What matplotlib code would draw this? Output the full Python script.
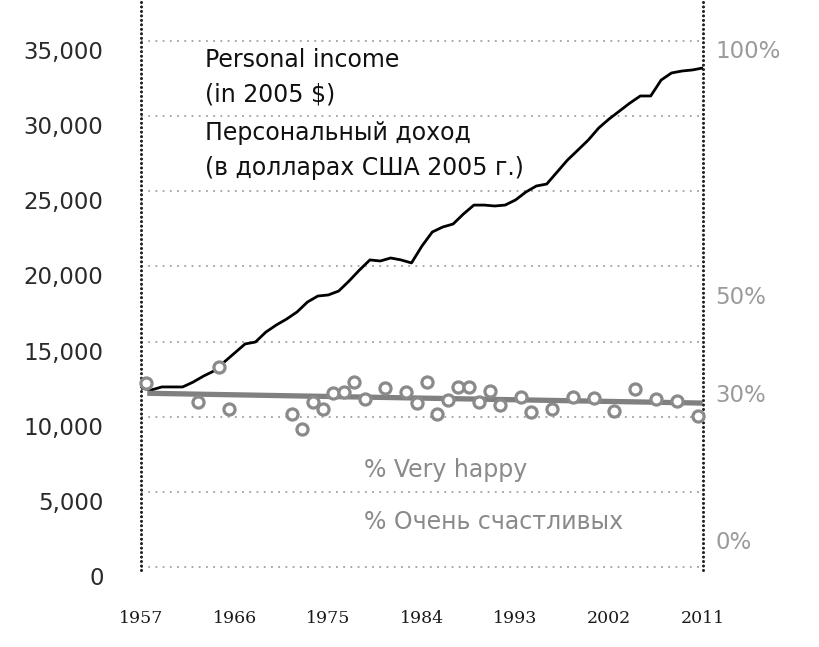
import numpy as np
import matplotlib
matplotlib.use('Agg')
import matplotlib.pyplot as plt
from matplotlib.transforms import ScaledTranslation

# personal income, 2005 dollars, one value per year
income_years = np.arange(1957, 2012)
income = [11900, 11780, 11980, 11980, 11980, 12300, 12700, 13040, 13640, 14240,
          14840, 14970, 15630, 16100, 16500, 16970, 17630, 18030, 18100, 18360,
          19030, 19760, 20430, 20360, 20560, 20430, 20230, 21350, 22290, 22620,
          22820, 23490, 24080, 24080, 24020, 24080, 24420, 24950, 25350, 25480,
          26280, 27080, 27740, 28410, 29210, 29810, 30340, 30870, 31340, 31340,
          32400, 32870, 33000, 33070, 33200]

# % very happy (survey years)
happy_years = [1957, 1962, 1964, 1965, 1971, 1972, 1973, 1974, 1975, 1976, 1977,
               1978, 1980, 1982, 1983, 1984, 1985, 1986, 1987, 1988, 1989, 1990,
               1991, 1993, 1994, 1996, 1998, 2000, 2002, 2004, 2006, 2008, 2010]
happy_pct = [32.0, 28.1, 35.2, 26.7, 25.7, 22.6, 28.1, 26.7, 29.9, 30.1, 32.2,
             28.7, 31.0, 30.1, 27.9, 32.2, 25.7, 28.5, 31.2, 31.2, 28.1, 30.3,
             27.5, 29.1, 26.1, 26.7, 29.1, 28.9, 26.3, 30.8, 28.7, 28.3, 25.3]

trend_years = [1957.6, 2011]
trend_pct = [29.9, 27.9]

left_ticks = [0, 5000, 10000, 15000, 20000, 25000, 30000, 35000]
right_ticks = [0, 30, 50, 100]
year_ticks = [1957, 1966, 1975, 1984, 1993, 2002, 2011]

income_label = ['Personal income', '(in 2005 $)',
                'Персональный доход', '(в долларах США 2005 г.)']
happy_label = ['% Very happy', '% Очень счастливых']

sans = ['DejaVu Sans']

fig = plt.figure(figsize=(8.2, 6.47), dpi=100)
ax = fig.add_axes([0.172, 0.119, 0.685, 0.881])
ax2 = ax.twinx()

ax.set_xlim(1957, 2011)
ax.set_ylim(-200, 37725)
ax2.set_ylim(-6.1, 110)

ax.set_yticks(left_ticks)
ax.set_yticklabels(['{:,}'.format(t) for t in left_ticks], fontsize=16.5,
                   color='#2a2a2a', family=sans)
ax.yaxis.grid(True, linestyle=(0, (1, 3)), color='#a0a0a0', linewidth=1.3)
ax.set_axisbelow(True)
ax.tick_params(axis='y', length=0, pad=27)
for lab in ax.get_yticklabels():
    lab.set_transform(lab.get_transform() + ScaledTranslation(0, -0.09, fig.dpi_scale_trans))

ax.set_xticks(year_ticks)
ax.set_xticklabels([str(y) for y in year_ticks], fontsize=12.5,
                   family=['DejaVu Serif'], color='#1a1a1a')
ax.tick_params(axis='x', length=0, pad=29)

ax2.set_yticks(right_ticks)
ax2.set_yticklabels(['%d%%' % t for t in right_ticks], fontsize=16.5,
                    color='#9a9a9a', family=sans)
ax2.tick_params(axis='y', length=0, pad=9)

for a in (ax, ax2):
    for s in ('top', 'bottom'):
        a.spines[s].set_visible(False)
    for s in ('left', 'right'):
        a.spines[s].set_linestyle((0, (0.01, 1.6)))
        a.spines[s].set_linewidth(2)
        a.spines[s].set_capstyle('round')
        a.spines[s].set_color('#222222')

ax.plot(income_years, income, color='black', linewidth=2, zorder=3)

ax2.plot(trend_years, trend_pct, color='#808080', linewidth=3.8,
         solid_capstyle='butt', zorder=2)
ax2.plot(np.array(happy_years) + 0.5, happy_pct, linestyle='none', marker='o',
         markersize=8, markeredgewidth=2.3, markeredgecolor='#8a8a8a',
         markerfacecolor='white', zorder=4, clip_on=False)

# label lines, y in axes fraction (figure pixel rows 60, 94, 133, 168)
for txt, yy in zip(income_label, [0.895, 0.835, 0.767, 0.705]):
    ax.text(0.114, yy, txt, transform=ax.transAxes, fontsize=17,
            family=sans, color='#111111', va='center')

for txt, yy in zip(happy_label, [0.175, 0.084]):
    ax.text(0.397, yy, txt, transform=ax.transAxes, fontsize=17,
            family=sans, color='#8a8a8a', va='center')

fig.savefig('out.png', dpi=100, facecolor='white')
